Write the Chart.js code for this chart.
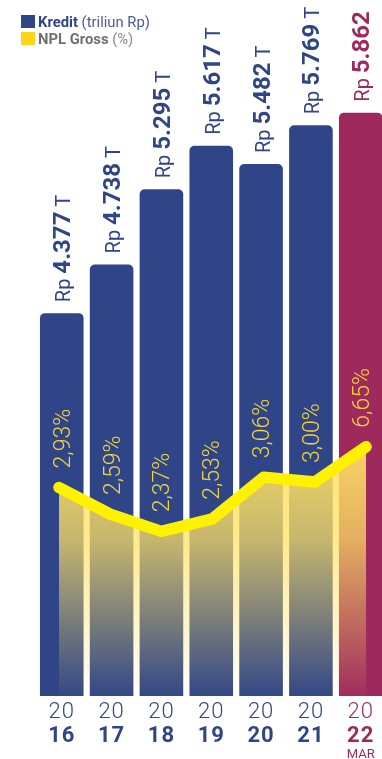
<!DOCTYPE html>
<html>
<head>
<meta charset="utf-8">
<script src="https://cdn.jsdelivr.net/npm/chart.js@4.4.1/dist/chart.umd.min.js"></script>
<style>
  html, body { margin: 0; padding: 0; background: #fff; overflow: hidden; }
  #wrap { position: relative; width: 382px; height: 759px; overflow: hidden; }
  #myChart { position: absolute; left: 0; top: 0; }
</style>
</head>
<body>
<div id="wrap"><canvas id="myChart" width="392" height="759"></canvas></div>
<script>
// data
const years = ['2016', '2017', '2018', '2019', '2020', '2021', '2022'];
const yearNote = ['', '', '', '', '', '', 'MAR'];
const kredit = [4.377, 4.738, 5.295, 5.617, 5.482, 5.769, 5.862];   // triliun Rp
const kreditUnit = [' T', ' T', ' T', ' T', ' T', ' T', ''];
const npl = [2.93, 2.59, 2.37, 2.53, 3.06, 3.00, 6.65];             // NPL gross %, labels
// where the line is actually drawn (the original squeezes the 2022 point)
const nplDrawn = [2.93, 2.59, 2.37, 2.53, 3.06, 3.00, 3.45];

const BLUE = '#2f4587';
const MAGENTA = '#9e2a5d';
const barColors = years.map((y, i) => i === years.length - 1 ? MAGENTA : BLUE);
const FONT = 'Roboto, "Liberation Sans", sans-serif';

const canvas = document.getElementById('myChart');
let myChart;

// gradient under the NPL line
function fillGradient(context) {
    const chart = context.chart;
    const area = chart.chartArea;
    if (!area) return 'rgba(255,225,100,0.6)';
    const top = chart.scales.y2.getPixelForValue(Math.max(...nplDrawn));
    const g = chart.ctx.createLinearGradient(0, top, 0, area.bottom);
    g.addColorStop(0, 'rgba(255,225,100,0.92)');
    g.addColorStop(0.37, 'rgba(255,225,100,0.73)');
    g.addColorStop(1, 'rgba(255,225,100,0.02)');
    return g;
}

// rotated text, reading bottom to top, made of several styled parts
function drawVertical(ctx, x, y, parts) {
    ctx.save();
    ctx.translate(x, y);
    ctx.rotate(-Math.PI / 2);
    ctx.textAlign = 'left';
    ctx.textBaseline = 'alphabetic';
    let cx = 0;
    parts.forEach(p => {
        ctx.font = p.font;
        ctx.fillStyle = p.color;
        ctx.fillText(p.text, cx, p.shift);
        cx += ctx.measureText(p.text).width;
    });
    ctx.restore();
}

const labelPlugin = {
    id: 'labels',
    afterDatasetsDraw(chart) {
        const ctx = chart.ctx;
        const bars = chart.getDatasetMeta(1).data;
        const points = chart.getDatasetMeta(0).data;

        bars.forEach((bar, i) => {
            const color = barColors[i];
            // value above each bar
            drawVertical(ctx, bar.x, bar.y - 11, [
                { text: 'Rp ', font: `400 20px ${FONT}`, color: color, shift: 8.5 },
                { text: kredit[i].toFixed(3), font: `700 24px ${FONT}`, color: color, shift: 8.5 },
                { text: kreditUnit[i], font: `400 20px ${FONT}`, color: color, shift: 8.5 }
            ]);
            // NPL value above the line point
            drawVertical(ctx, bar.x, points[i].y - 19, [
                { text: npl[i].toFixed(2).replace('.', ',') + '%', font: `300 23px ${FONT}`, color: '#f3d53c', shift: 8 }
            ]);
            // year under the bar
            ctx.save();
            ctx.textAlign = 'center';
            ctx.textBaseline = 'alphabetic';
            ctx.fillStyle = color;
            ctx.letterSpacing = '1px';
            ctx.font = `300 22px ${FONT}`;
            ctx.fillText(years[i].slice(0, 2), bar.x, 718);
            ctx.font = `700 22px ${FONT}`;
            ctx.fillText(years[i].slice(2), bar.x, 742);
            ctx.letterSpacing = '0px';
            if (yearNote[i]) {
                ctx.font = `400 13px ${FONT}`;
                ctx.fillText(yearNote[i], bar.x, 758);
            }
            ctx.restore();
        });

        // legend
        ctx.save();
        ctx.textAlign = 'left';
        ctx.textBaseline = 'alphabetic';
        ctx.fillStyle = BLUE;
        ctx.fillRect(21, 15, 14, 13);
        ctx.fillStyle = '#fdd61a';
        ctx.fillRect(21, 32, 14, 13);
        ctx.font = `700 14.8px ${FONT}`;
        ctx.fillStyle = BLUE;
        ctx.fillText('Kredit', 38, 27);
        let w = ctx.measureText('Kredit ').width;
        ctx.font = `400 14.8px ${FONT}`;
        ctx.fillStyle = '#4a5b97';
        ctx.fillText('(triliun Rp)', 38 + w, 27);
        ctx.font = `700 14.8px ${FONT}`;
        ctx.fillStyle = '#707070';
        ctx.fillText('NPL Gross', 38, 44);
        w = ctx.measureText('NPL Gross ').width;
        ctx.font = `400 14.8px ${FONT}`;
        ctx.fillStyle = '#8a8a8a';
        ctx.fillText('(%)', 38 + w, 44);
        ctx.restore();
    }
};

function createChart() {
    if (myChart) {
        myChart.destroy();
    }

    myChart = new Chart(canvas, {
        data: {
            labels: years,
            datasets: [{
                type: 'line',
                label: 'NPL Gross (%)',
                data: nplDrawn.map((v, i) => ({ x: i, y: v })),
                xAxisID: 'x2',
                yAxisID: 'y2',
                borderColor: '#fff200',
                borderWidth: 11.5,
                borderCapStyle: 'round',
                borderJoinStyle: 'round',
                pointRadius: 0,
                tension: 0,
                fill: 'start',
                backgroundColor: fillGradient,
                order: 0
            }, {
                type: 'bar',
                label: 'Kredit (triliun Rp)',
                data: kredit,
                xAxisID: 'x',
                yAxisID: 'y',
                backgroundColor: barColors,
                borderRadius: { topLeft: 5, topRight: 5 },
                borderSkipped: 'start',
                grouped: false,
                categoryPercentage: 1,
                barPercentage: 0.875,
                order: 1
            }]
        },
        options: {
            responsive: false,
            animation: false,
            layout: { padding: { left: 36.85, right: 6.35, top: 100, bottom: 63 } },
            plugins: {
                legend: { display: false },
                tooltip: { enabled: false }
            },
            scales: {
                x: { display: false, offset: true },
                x2: { type: 'linear', display: false, min: -0.433, max: 6.384 },
                y: { display: false, min: 1.541, max: 5.956 },
                y2: { display: false, min: 0.267, max: 7.879 }
            }
        },
        plugins: [labelPlugin]
    });
}

createChart();
</script>
</body>
</html>
